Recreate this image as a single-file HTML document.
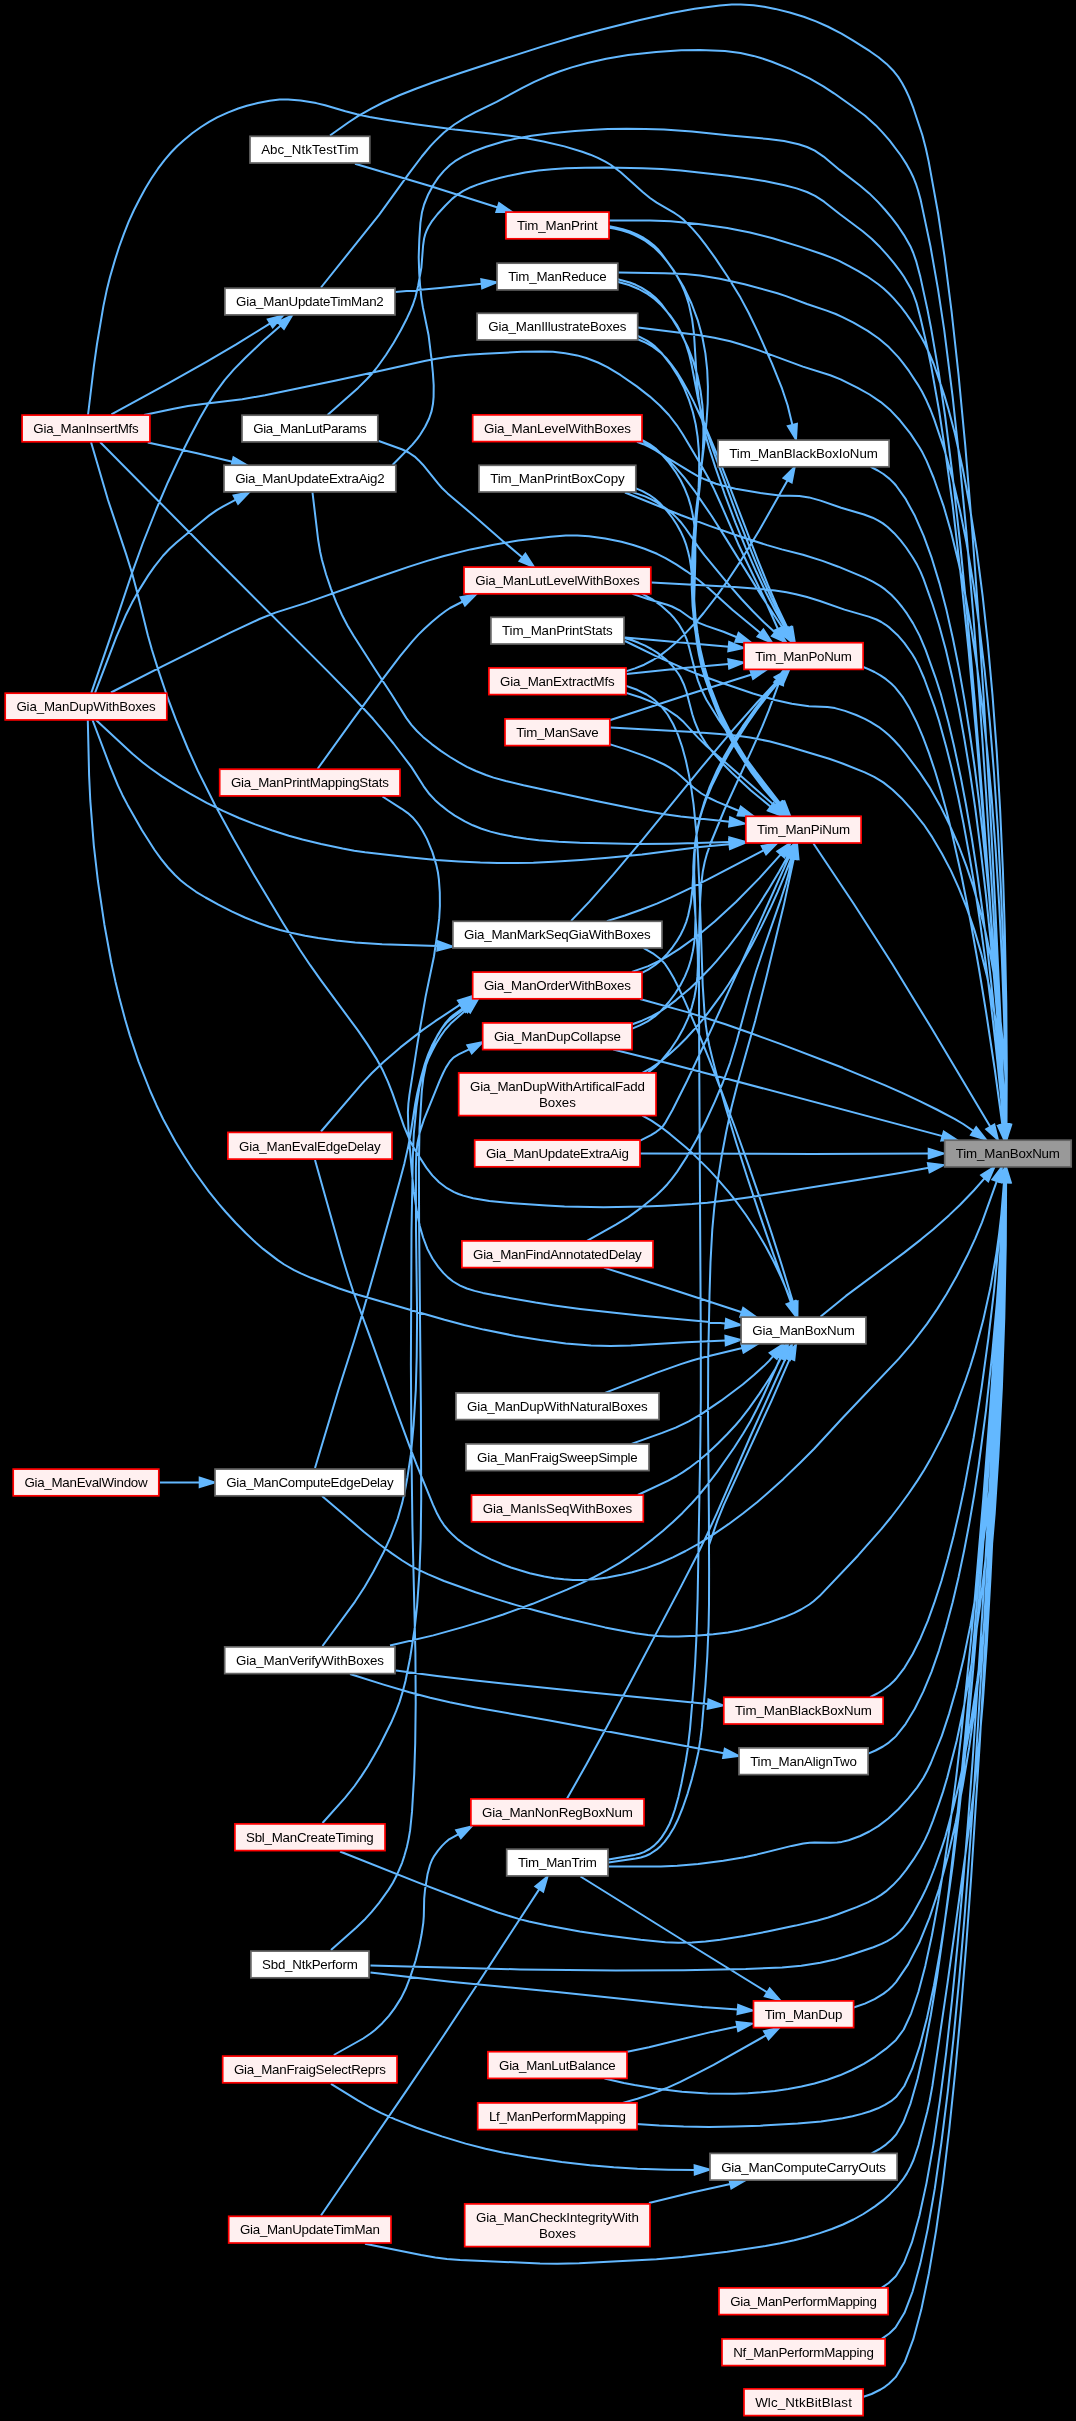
<!DOCTYPE html>
<html><head><meta charset="utf-8"><title>Tim_ManBoxNum caller graph</title>
<style>html,body{margin:0;padding:0;background:#000;}svg{display:block;}text{font-family:"Liberation Sans",sans-serif;}</style></head>
<body>
<svg width="1076" height="2421" viewBox="0 0 1076 2421">
<rect width="1076" height="2421" fill="#000"/>
<path d="M91,442 108,500 126.2,554.4 132,573 137.1,592 147.9,635.5 152,650 158.3,670.1 166.8,695.3 176.1,720.2 187.8,748.5 197.9,770.9 215,805 233.3,838.6 254.7,875.9 283.3,923.4 300,950 310.2,965.2 320.8,980.2 357.9,1030.4 367.5,1044.4 376.1,1058.1 382.9,1070.6 388,1081.9 392.5,1093.3 404,1126.4 410.2,1141.2 415,1150 426.3,1167.6 432.3,1175.4 439.1,1182.2 447,1188.2 454.1,1192.1 458.5,1194 463.2,1195.6 473.1,1198.2 489.4,1201 513.1,1203.2 546.5,1205.6 564.5,1206.5 603.6,1207.2 644.1,1206.5 663.9,1205.7 692,1204 707.3,1202.7 729.6,1200.1 751.4,1196.9 857.4,1180.1 900,1173 928.7,1167.7M330,135.5 348.3,122.5 358,116.2 371.3,108.6 383.2,102.5 400,95 415.9,88.7 434.1,82 460.4,73 506.2,58 543.6,46.1 574.9,36.8 600,30 638.9,20.3 671.2,13.1 694.7,8.8 719.8,5.5 731.8,4.6 740.7,4.5 753.5,5.3 764.2,6.8 775.2,8.9 789.7,12.5 803.7,16.8 816,21.4 827.6,26.5 841.5,33.7 852.4,40.1 869.9,51.2 878.5,57.2 886.6,63.9 893.8,71.3 898.2,76.9 902.2,83.2 905.8,90 909.1,97.1 913.4,108.2 922.4,135.3 925.8,148.2 928.7,161.6 938.2,214 944.6,256.9 951.6,311.6 958.5,374.4 965.2,444.9 971.6,522.5 977.7,605.7 983.6,696.3 989.6,798.4 995.2,905.6 1000.5,1018.2 1004.9,1125.2M321,287.5 379.1,214.8 408.7,173.8 421.8,156.5 430.6,145.9 435.1,141.1 444,132.5 454.4,124.5 464.9,117.9 475.5,112.2 496.6,101.8 521.9,88.2 534.3,81.9 546.8,76.3 559.3,71.5 571.7,67.4 587.4,63 606.2,58.7 628.1,55 656.2,51.9 681.2,50.2 700,50 724.9,51.1 740.5,53.1 753.5,55.9 760.8,58 771.9,61.7 790.3,69.1 809.5,78.3 823.4,86.3 834,93.3 851.6,105.7 865.1,115.8 875.9,125.4 882.7,132.6 889.7,140.7 900.9,155.5 906.9,164.9 910.4,171.2 913.4,177.5 915.9,183.8 918,190.2 920.7,200.1 930.4,246 938,289.2 944.2,329.8 952.6,396.4 959.5,460.3 966.3,531.1 973,611.3 979.6,699.3 986.2,795.5 992.7,900.7 998.8,1009.5 1004.7,1125M327.5,415 358.1,387.9 366.8,379.3 372.4,373.2 377.7,366.5 385.9,355 393.7,342.8 400.8,330.3 407,318.2 410.5,310.6 413,304.5 415.4,297.3 418.1,285.9 421.4,267.6 423.1,245.5 424.1,238.5 425.3,234.1 426.8,230.2 428.5,226.7 431.6,221.7 437.6,214 445.2,205.8 452.1,198.9 457.2,194.8 463.3,190.9 470.8,187.2 477.4,184.6 488.5,181 500.4,177.7 512.8,174.9 525,172.5 538.3,170.5 551.9,169.2 565.9,168.3 585.1,167.7 605.8,167.5 642.6,168.2 661.7,169.1 680.9,170.6 728,175.8 750,178.8 764.4,181.1 784.6,185.2 796.6,188.4 807,192 815.1,195.9 824.1,201.7 840,214.3 862.7,231.3 871.6,238.8 880.3,247.3 887.1,254.8 893.8,262.8 900.1,271.1 904,276.8 910.8,288.4 913.3,294 916.4,302.6 920.3,317.3 927.3,347.4 931.4,367.4 939.1,410.7 946.1,457.1 952.7,505.7 961.2,578.9 968.6,650.7 976.1,732.8 983.6,822.7 991.1,922.8 998.4,1028.9 1004.4,1125.1M392.5,465 412.4,444.6 417.2,438.9 420,435 425.1,426.8 429.1,418.5 431.6,411.1 433,403.8 433.6,396.9 433.7,385.3 432.9,373 431.7,360.6 428.6,335.3 422.9,307.4 421.4,298.1 420.1,285.6 419.2,272.9 418.7,257.2 419.3,239.4 420.4,222.9 422,212.2 424.1,204.5 428.2,194.4 433.6,184.5 438.4,177.4 443.9,170.9 450,165 455,161.2 463.5,156.1 472.7,151.8 486.1,146.8 504.2,141.3 517.5,138.3 531.6,135.8 550.9,133.3 575,131 593.7,129.7 607.8,129 626.6,128.7 645.3,128.9 664,129.6 692,131.6 730.1,135.5 768.2,139 784.1,141.1 798.6,144.2 807,147 814.8,150.7 823.6,156.6 839.6,169.9 860.2,185.8 869.3,193.4 877.9,201.9 884.8,209.5 891.6,217.6 898.1,226.2 904,235.1 910.8,247.1 913.3,253 916.4,261.9 920.4,277.1 927.3,308.9 930.8,326.7 938.8,373.1 945.1,416 952.5,474.9 960.2,544.2 967.4,617.2 974.8,701.4 982.1,794.2 989.6,896.6 997.4,1012.3 1004.4,1125.1M315,1160 341.9,1255.5 348.1,1275.9 353.4,1292 370.1,1337.2 394.3,1404.9 409.6,1446.3 416.6,1464.6 433.1,1504.8 437.2,1513.8 440.3,1519.5 443.8,1524.8 448,1530 453,1535.1 458.4,1539.9 464.3,1544.3 473.8,1550.4 480.4,1554.2 490.9,1559.3 502.2,1564.2 510.9,1567.5 529.7,1573.2 544.3,1576.5 554.1,1578.2 563.7,1579.3 573,1580 581.6,1580.1 594.5,1579.3 607.4,1577.6 620,1575.1 632.2,1572.2 646.9,1567.9 660.1,1563 672.9,1557.4 685.6,1551 699.3,1543.4 713.9,1534.2 728.5,1524.2 742.9,1513.5 757.4,1502 768.6,1492.3 783.4,1478.9 800.7,1462.2 814.2,1448.7 841.8,1418.8 898.9,1358.6 912.4,1342.9 927,1323.9 937.1,1309.1 946.6,1294 956.8,1276 967.2,1255.8 975.3,1238.3 982,1222.3 996.8,1181.1M322,1496 363.8,1531.7 379.7,1544.5 391.8,1553.4 402.2,1560.5 410.5,1565.6 417.6,1569.3 427.8,1574.2 444,1581 475.5,1592.3 495.8,1598.9 516.3,1605.1 538.3,1611.3 563,1617.7 605,1627.4 635.3,1633.2 648,1635 657.5,1636 668.4,1636.6 678.5,1636.6 695.4,1635.8 713.3,1634.3 728.1,1632.4 739.1,1630.5 753.7,1627 768.7,1622.6 783.7,1617.3 794.4,1612.8 801,1609.5 809.3,1604.5 813.6,1601.2 819.5,1596.1 857.9,1555.7 881.5,1528.9 891.2,1517 899.6,1506 908.7,1493.5 917.6,1480.4 924.3,1469.8 930.5,1459.1 942,1437.1 948.6,1423.2 954.7,1409.1 965.5,1380.5 970.3,1366.2 974.7,1351.9 983.1,1320.6 990.5,1287.3 996.4,1253.3 998.9,1235.5 1001.5,1213.2 1003.2,1197.1 1004.3,1182M340,1851.5 419,1882.9 473.9,1903.8 497.8,1912.5 517.8,1918.6 528.9,1921.5 547.5,1925.6 579.8,1931.4 605.2,1935.2 640.7,1939.8 665.4,1942.3 678.2,1942.8 692,1942.5 705.5,1941.5 720.3,1939.7 743.9,1936 767.4,1931.5 795.6,1925.6 817.5,1920.5 828.3,1917.5 836.5,1914.8 856.7,1907.1 867.8,1902.3 875.9,1898.1 881.1,1894.9 885.9,1891.4 893,1885.1 899.8,1877.9 906,1870.1 913.7,1859.2 920.5,1848.3 924.8,1840.1 928.6,1831.8 933.1,1820.3 938.4,1805.4 943,1791.9 947.2,1777.8 956.7,1740.8 964.4,1704.2 972,1661.4 979.8,1607.4 985.3,1560.9 990.8,1504.8 995.6,1444.6 999.7,1378 1002.7,1312.6 1004.9,1243.2 1005.8,1182M370.5,1965.5 520.1,1969.4 615.8,1970.5 683.8,1970.2 745.7,1969 782.1,1967.4 801.3,1965.7 820.3,1962.8 834.8,1959.6 851,1954.7 873.4,1947.2 881.6,1943.9 886.8,1941.4 891.6,1938.5 896,1935.3 899.8,1931.8 903.3,1928 908,1921.7 912.3,1914.9 921.7,1897.7 925.9,1889.1 929.9,1880 934.8,1867.5 940.6,1851.2 945.4,1836.6 953.7,1805.9 958.5,1785.9 962.3,1768.7 970.5,1724.3 977.3,1680.2 983.8,1629.8 989.4,1575.8 994.7,1513.3 998.4,1455.8 1001.9,1387.5 1004.3,1318 1005.8,1244.4 1006.1,1182.4M365,2243.8 421.1,2255.1 435.3,2257.5 446.9,2259.1 460.1,2260.1 482.7,2260.9 540,2263.6 557.3,2263.7 579.2,2263.2 656.5,2259.2 682.6,2257 727.2,2251.7 765.5,2246 780.4,2243.3 794.3,2240.3 807,2237 819.8,2233.1 831.8,2229 843,2224.5 853.5,2219.5 863.4,2214 875,2206.4 882.9,2200.4 890.2,2193.9 897,2186.9 903.1,2179.2 906.9,2173.4 910.4,2166.9 913.5,2160 918.5,2145.1 927.2,2112 929.5,2101.8 932.4,2085.9 947.6,1982.6 969.2,1827 974,1789 979.8,1736.8 983,1700 986.8,1644.2 990.5,1577.4 994.8,1489.5 999.4,1377.9 1005.5,1182.5M609,220.5 650,220.5 670.8,221.2 698.5,223.9 727.2,228.1 750,232.5 772.7,238.2 800.7,246.9 822.5,254.2 832.7,258.1 839.1,260.9 849.6,266.3 858.3,271.1 867,276.3 878.3,284.2 883.6,288.5 888.7,293.2 893.7,298.4 901,306.8 905.5,312.8 912,322.1 921.7,338 925.1,344.3 929.6,354.1 933.7,364 937.3,374.3 944.5,395.9 948.1,408.1 954.8,433.3 962.8,469 969.4,504.6 976.9,551.5 982.6,595.7 987.7,642.2 992.5,695.1 996.7,751.1 1000.1,809.1 1002.9,870.6 1004.8,930.3 1006.3,1003.6 1006.8,1067.5 1006.5,1125.1M618.5,272.5 664.6,273.2 685,274 700,275.5 719.8,278.8 744.6,284.3 777.4,293.2 786,296.1 807,304 826.7,310.6 835.7,314 842.5,317.1 853.5,322.7 867.7,330.9 878.7,338.5 888.8,347.1 898.3,357.1 902.7,362.6 909.1,371.2 918.7,385.9 922.1,391.8 926.6,400.8 930.6,410 934.2,419.4 944.6,450.2 952.2,477.4 960,510.5 966.3,541.9 973.4,584.2 979.2,625.6 984.6,670 989.7,720.9 994,773 998,831.7 1000.6,882.3 1003.3,945.5 1005,1005.5 1006,1066.7 1006.2,1124.7M638,327.5 698.1,334.9 714.3,337.7 730.3,341.3 741.2,344.5 757.7,349.9 802.9,366.6 830.3,375.3 840.6,379.4 857.7,387.8 869.6,394.5 880.8,402.1 890.8,410.6 899.9,420.3 910.3,433.4 919.4,447.2 922.5,452.6 926.6,460.9 933.7,478 943.8,506.7 951,531.8 958.5,562.4 964.6,591.3 971.5,630 977,666.3 982.5,708 987.2,750.7 991.7,798.3 995.7,850.3 999.2,905.3 1001.8,957.1 1004,1016.1 1005.4,1072.9 1005.9,1124.9M642.5,441 666.6,457.3 690.5,471.9 697.4,475.8 704.7,479.3 715.9,483.7 723.4,485.8 735.5,488.7 760.4,493 779.5,495.5 799.3,496.1 809,497.4 820.6,500.6 841.1,507.7 864,514.5 872.6,517.7 877.9,520.3 882.9,523.4 887.6,527 894.2,533.2 900.4,540.1 906.1,547.5 912.8,557.5 917,564.6 920.5,571.6 923.5,578.8 932.6,604.5 939.1,625.2 945.9,650.1 952.3,677.4 959,709.2 964.4,739.1 970.1,773.4 975.3,808.7 980.4,847.9 985.9,894.7 990.2,936.5 994.2,979.6 998.3,1029.2 1001.9,1080.1 1004.5,1124.8M625,492.5 681.2,515.3 709.5,525.9 739.4,536.2 767.1,545.1 781.8,549.4 803,554.8 822.5,560.9 838.3,566.7 864.7,577.6 872.8,581.6 880.5,586.1 885.1,589.4 891.3,594.8 896.9,600.6 902.1,607 907,613.7 913.1,623.4 919.7,635.9 925.6,649.8 935.6,677.8 941.1,694.9 948.6,723.1 953.8,744.9 960.7,776.9 965.8,803.7 971.7,837.6 977.6,875.6 982.8,913.2 987.9,953.4 992.9,998.2 997.5,1044.8 1000.7,1081.4 1004,1124.9M651.5,582.5 734.6,587 763.4,589.2 775,590.5 786.5,592.3 795.9,594.2 807,597 819.9,601 844.5,609.6 868.7,616.6 876.5,619.5 881.3,622 885.7,624.8 889.8,627.9 897.4,634.9 904.3,642.9 912.2,654 915.5,659.6 918.6,665.6 924.2,678.5 934.7,707.4 939,720.7 946.3,747.2 951.5,767.7 958.3,797.8 963.4,823.1 969.3,855.1 974.8,887.7 980.2,923.2 985.5,961.2 990.9,1003.5 995.4,1042.7 1000.6,1092.6 1003.6,1125.1M625,641 655.5,655.9 686.4,669.6 700,675 717.8,681.5 753,693.5 775,700 791.8,703.7 808.9,706.2 827.4,707 835,708.1 845,710.9 856.2,715 864.8,718.9 870.4,721.9 878.5,726.8 883.7,730.7 889,735.3 894.1,740.3 899.1,745.7 906.2,754.3 919.5,772.1 929.5,787.1 940.2,805.9 949.8,825.3 958.6,845.5 966.4,866.1 973.3,886.8 979.4,907.9 985.6,932.5 990.7,956.5 996.1,987.2 999.7,1012.8 1003,1043.5 1005.1,1070.9 1006,1092.6 1006.3,1124.8M610.5,727.5 693.3,732.1 719.5,733.9 735.6,735.5 750,737.5 770.1,741.5 787.6,746.2 829.2,758.7 843.2,763.7 864.8,772.4 874.2,776.9 883.3,782.4 892.6,789.7 901.5,798.2 912,809.8 923.6,824.3 932.4,837.4 942,853.8 950.9,870.6 958.8,888.1 967.1,908.9 974.4,930.1 981.5,954.4 986.8,975.4 992.5,1002.2 996.4,1024.4 1000,1049.9 1003.1,1079.5 1004.8,1101.4 1005.6,1125.1M640,999 688.1,1012.4 725.4,1024.3 752.4,1033.7 780.3,1043.9 842.7,1067.8 884.6,1085.1 901.6,1092.6 919.7,1101.1 936.7,1109.5 954.5,1118.9 963.2,1124 973.6,1131.1M613.3,1049.5 655.4,1060 711.8,1074.7 942.5,1136.1M639.5,1153.4 811.7,1154 928.7,1153.5M608.5,1866.5 660.8,1866.5 677.2,1865.7 698.1,1863.9 723.3,1860.7 744.2,1857.2 757.2,1854.4 791.6,1845.9 803.3,1843.5 809.6,1842.7 814.6,1842.4 830.6,1842.7 837.2,1842.5 841.7,1841.9 848.6,1840.2 860.2,1836 869.4,1831.5 878.3,1826.1 888.3,1818.5 898.6,1809 908.3,1798.4 917,1787.6 923.5,1777.8 927.4,1770.5 930.9,1763 941.8,1735.9 949,1714.1 956.6,1687.8 963.5,1659.1 970.4,1625.4 975.9,1594 981.4,1557.7 986.6,1516.4 991.1,1474.8 995.2,1429.2 998.7,1380.6 1001.5,1330.6 1003.6,1281.1 1005.2,1228.9 1005.8,1182M604.5,2078.5 623.9,2082.9 634.6,2085 657.4,2088.8 682,2091.7 707.8,2093.4 734.4,2093.7 747.9,2093.2 761.3,2092.3 774.8,2090.9 788.2,2089 801.5,2086.5 814.5,2083.5 827.4,2079.7 839.9,2075.3 852,2070 863.8,2063.8 875.1,2056.8 885.8,2048.9 896,2039.9 903.7,2029.5 911.2,2013.3 918.4,1992 925.3,1965.9 931.9,1935.5 938.3,1901.2 944.4,1863.5 950.3,1822.9 955.9,1779.8 961.2,1734.7 970.9,1640.8 975.3,1592.9 983.3,1498 990.2,1407.5 995.8,1325.4 1004.5,1182.4M636.4,2124.1 659.3,2125.6 683.6,2126.6 708.9,2126.9 734.7,2126.5 760.4,2125.7 797.7,2123.5 821.1,2121.4 842.6,2118.2 852.5,2116.2 861.7,2113.9 870.3,2111.2 878,2108.3 884.9,2104.9 891,2101.2 896,2097.1 904.3,2086 912.2,2068.7 919.8,2045.9 927,2017.9 934,1985.3 940.6,1948.5 946.8,1908.1 952.8,1864.5 958.4,1818.4 963.6,1770.1 968.6,1720.3 973.2,1669.5 977.6,1618.3 985.3,1516.8 991.7,1420.2 997,1332.8 1001,1258.6 1004.7,1181.9M870.7,466.9 877.8,470.5 883.4,474 889.6,478.9 894.3,483.5 896,485.5 905.8,499.2 915,516.1 923.7,535.8 931.8,558.2 939.4,583.1 946.5,610.1 953,639 959.1,669.4 964.7,701.2 969.9,734 974.7,767.5 979,801.4 982.9,835.3 989.7,902 995,965.2 1000.8,1048.3 1004.8,1124.7M862.2,666.5 868.4,669.1 874.5,672 880.4,675.4 886,679.2 891.2,683.5 894.9,687.1 903,697.4 909.8,708.6 916.4,721.7 922.8,736.6 929,753.1 935,771 940.8,790.3 946.4,810.7 951.7,832.1 961.7,876.7 970.8,922.7 978.9,968.2 986,1011.6 994.8,1069.5 1002.4,1125.1M813.3,843.2 853.7,903.7 892.3,964 931.6,1028.3 990.3,1126.8M820.4,1316.8 845.9,1295.9 904.2,1252.6 920.8,1239.6 933.1,1229.4 948.9,1215.4 960.1,1204.7 973.8,1190.5 984.7,1178.2M870.1,1697.2 877.3,1693.5 883,1690 889.4,1685.2 894.2,1680.7 896,1678.8 904.6,1667.6 912.7,1654 920.5,1638.2 927.9,1620.6 934.8,1601.4 941.5,1580.7 947.7,1558.8 953.6,1535.9 959.1,1512.2 964.3,1487.9 973.6,1438 981.6,1387.7 988.4,1338.2 994,1291.1 1000.2,1228.3 1004,1181.8M867.7,1753.8 875.5,1750.5 883,1746.5 888.8,1742.6 894,1738.1 896,1736.1 905.7,1723.8 914.8,1708.8 923.4,1691.4 931.5,1671.8 939,1650.3 946,1627.1 952.6,1602.6 958.6,1576.9 964.2,1550.2 969.4,1522.9 974.2,1495 978.5,1466.9 986,1410.3 992.1,1354.9 996.9,1302.3 1002,1232.7 1004.7,1182.2M852.9,2007.7 864.9,2003.6 874.6,1999.1 883.6,1993.6 888.6,1989.7 891.7,1986.8 896,1982.1 908.1,1964.4 919.3,1942.8 929.6,1917.4 939.1,1888.7 947.7,1857 955.6,1822.7 962.7,1786 969.2,1747.4 974.9,1707.2 980,1665.9 984.6,1623.8 988.5,1581.3 992,1538.8 997.5,1455.4 1001.3,1376.8 1002.7,1340.2 1004.6,1274.2 1005.6,1220.1 1005.9,1181.9M871.6,2153.3 879.6,2149 885.9,2144.6 891.7,2139.5 896,2134.7 903.4,2122.1 910.6,2103.3 917.6,2078.8 924.3,2049.1 930.9,2014.7 937.2,1976.1 943.2,1933.8 949.1,1888.3 954.6,1840.2 960,1789.9 965,1738.1 974.4,1632.1 982.6,1526.8 989.7,1426.8 998,1296.4 1004.5,1181.9M881.6,2287.9 888.7,2283 895,2277.1 896,2275.9 904.1,2262.5 911.9,2242.4 919.4,2215.8 926.5,2183.1 933.4,2144.6 939.9,2100.9 946.2,2052.4 952.1,1999.5 957.7,1943.1 963,1883.7 968,1822.2 972.7,1759.3 981.1,1632.8 988.3,1511.1 994.3,1400.3 999.1,1305.7 1004.8,1182M881.7,2338.9 889.3,2333.5 895.5,2327.5 904.5,2312.8 912.6,2291.6 920.3,2263.6 927.7,2229.1 934.8,2188.7 941.4,2142.7 947.8,2091.7 953.7,2036.3 959.4,1977.1 964.7,1914.9 969.6,1850.4 974.3,1784.6 982.5,1652.3 989.5,1524.9 995.2,1409.2 999.7,1310.5 1004.9,1181.9M862.1,2397.3 871.6,2394 880.6,2389.5 884.9,2386.8 888.9,2383.8 894.9,2377.9 896,2376.7 904.9,2361.7 913.3,2339.2 921.3,2309.6 928.9,2273.2 936.1,2230.6 942.9,2182.3 949.3,2128.8 955.3,2070.8 961,2009 966.3,1944.1 971.2,1876.9 980,1739.4 987.4,1603.6 993.4,1476.6 1000.2,1315.8 1005.1,1182.2M111.4,414.3 168.2,383.4 206.4,361.9 235.8,344.7 270.2,323.4M91.3,692.8 114.3,625.9 132.6,571.3 142.7,543.5 156,510 167.9,482.2 177.9,460.9 190,436.8 199.8,418.3 207.5,405.1 215.2,392.9 224.8,379.8 233.7,369.6 244.9,358.2 262.2,341.7 280.8,325.4M147.8,442.6 197.1,453.3 232.4,461.7M95,692.8 116.5,636.7 125.5,615.8 132.1,602.6 140,588.6 148.1,575.6 154.4,566.7 162.8,556 169.6,548.8 176.5,542.5 201.5,521.7 209.3,515.4 216.8,510.1 223.2,506.3 235.9,499.6M160,1482.4 199.7,1482.4M355,163.7 430,186 497.7,207.5M395.5,292 440,288 481.8,283.8M378.8,441 402.4,449.5 408.6,452.5 414.7,456.6 418.8,460.4 422.9,464.7 438.2,483.6 442,488 447.6,493.4 473,515 503.3,541.5 522.4,557.4M317.5,769 351.9,721.1 383.6,677.9 400.3,655.9 412.1,641.6 418.4,634.6 424.4,628.7 431.8,621.9 439.6,615.5 445.6,611 450.1,608 462.8,601.5M92.5,720 109.7,765.5 117.9,785.4 122.5,795.2 127.6,804.9 142,830.3 154.6,850 161.2,859.1 168,867.5 175,875 180.8,880.4 186.8,885.3 196,891.8 205.5,897.5 218.4,904.6 231.6,911.3 244.9,917.5 258.5,923 269.1,926.7 280,930 292.4,933.1 305.1,935.8 318.2,938 336.2,940.4 355.2,942.5 382.1,944.2 437.5,945.9M321,1131.5 361.6,1084.1 371.7,1073.3 383.5,1062 400.4,1047.4 422.5,1030.1 435.2,1021.2 460.6,1004.4M315,1468 338.5,1389.7 354,1341.3 361,1318.4 376.4,1264.6 399.6,1181.6 404.4,1163.4 408.3,1146.1 410.5,1134.3 415.2,1104 417.2,1093.4 421.3,1076.6 424.8,1064.1 428.1,1054.6 431.9,1045.8 437.3,1035.6 442,1028 445.6,1022.9 449.8,1018.1 453.4,1015 462.7,1008.2M322.5,1823 345,1797.9 354.5,1786 361.4,1776.1 368,1766 374.1,1755.6 380,1745 391.1,1722.8 396.1,1711.2 399.5,1702.1 402.6,1691.9 405.5,1681 410.1,1658 414.6,1629 417.1,1606 419.5,1571.6 420.7,1539 421.2,1499.2 420.9,1407.9 419.1,1223.9 418.9,1163.6 419.5,1129.2 421.8,1091.1 423.4,1077.7 426,1065 428.4,1057.1 431.1,1049.3 436.6,1037.3 441.6,1028.9 446.6,1022.8 451.9,1018.1 464.5,1008.6M331,1950 356.1,1927.8 365.5,1918.7 371.7,1911.8 378.9,1903.1 388.6,1889.6 392.9,1882.7 396.5,1875.8 402.1,1862.8 404.3,1856.1 406.9,1846.9 408.6,1839.1 410.1,1830.4 412,1811.9 414.2,1774.4 415.2,1743.5 415.7,1703 415.4,1652.7 412.4,1525.3 411.4,1445.6 410.9,1365.2 411.5,1230.8 412.8,1158.2 413.8,1133.7 416.5,1106.5 419.4,1087.6 421.4,1078.7 423.1,1072.9 428.2,1059.1 432,1051.2 436.1,1043.5 440.5,1036.4 445,1030 451.6,1022.7 467,1009.2M322.5,1646 354.9,1601.8 364.7,1586.7 373.5,1571.5 383.7,1552 390.9,1536.4 397.7,1518.5 402.2,1502.9 405,1490.4 407.4,1477.4 410.9,1454.2 413.6,1425.1 415.8,1389.7 416.7,1356.8 417.1,1315.9 416,1230 415.9,1167.7 416.3,1153.5 417.4,1143.3 419.9,1131.9 424,1119.4 439.7,1080.7 443.4,1072.5 445.9,1067.6 450,1061.3 452.5,1058.6 454.6,1056.8 459.1,1054.1 469.6,1049.2M333.8,2055 363.2,2038.5 370.5,2033.5 375,2030 382.3,2023.2 388.9,2015.9 394.7,2008.1 401.2,1997.9 405.7,1988.8 410.3,1976.9 415.7,1960.2 419.3,1946.1 421.6,1934.3 423.3,1922.8 423.8,1916.1 424.2,1898.5 425,1890 427.5,1874.3 430,1865 432,1860 434.3,1855.8 438,1850.6 442,1845.9 446,1841.9 449.1,1839.3 458.6,1834.1M321,2215.5 406.8,2090.1 444,2035 474.8,1988.3 539.3,1889.1M88,415 93.9,366 97,344 103.4,306.1 106.9,289.4 110,277 115,259.9 119.1,247 123.7,234.3 128.6,221.9 134,210 139.5,199.2 145.3,188.6 151.5,178.3 158,168.7 164.7,159.8 171,152.5 177.1,146.2 183.5,140.4 192.2,133.3 201,127 209.1,121.9 217.2,117.4 227.7,112.6 238.2,108.5 246.9,105.7 257.8,103 269.5,100.8 279.6,99.6 288.1,99.4 300.7,100.4 316.2,103.1 325.1,105.2 345.4,111.3 356.9,114.3 369.6,116.9 385.8,119.7 415.3,124.2 454.9,129.6 511.8,136 525,138 543.4,141.5 564.4,146.4 582.2,151.8 590.4,154.7 597.9,157.9 605.3,161.6 611,165 620.7,172.2 642.7,192 650,198 656.7,202.6 674.8,213.2 679.3,216.3 683.8,219.9 692.4,228.6 698.9,236.2 705.5,244.6 715.3,258.1 727.7,276.7 740.5,297.6 748.6,312.7 757.7,331.6 771.8,363.1 782.1,388.7 787.6,405.2 792.4,424.9M625.7,671.4 635,668.4 644.2,664.7 653,660 660,655.6 668.8,648.7 676.1,642.4 683.2,635.6 697,620.9 703.6,613 716.3,596.7 728.2,579.8 739.4,562.9 759.3,530.3 787.6,480.2M144,415 173.7,408.7 188,406 202.8,403.9 242.2,399.2 265,395.3 336,380.5 384.1,370.1 424.5,361 436.3,358.8 450.9,356.6 467.7,354.8 484.3,353.7 521.6,351.8 541.7,351.4 553,351.8 565.2,353.2 577.2,355.4 586.3,358 598,362.5 607.4,367.2 620.7,375.2 636.8,386.4 649.9,396.6 660.1,405.7 668.9,415 676.9,425.3 682.9,434.5 701.9,466.6 708.2,477.7 713.7,488.4 720.6,503.5 738.3,544.2 763.7,597.2 777.9,629M111,692.5 162.2,666.4 230.3,632.6 259.5,619 275.4,612.6 306.2,602.9 378.2,577.3 408.4,566.9 427.2,560.9 444,556 470.6,549.4 495,544.4 518.3,540.6 550.6,536.7 565.9,535.6 577.3,535.6 589,536.3 605.2,538.5 621.4,541.8 633.2,545 644.5,548.7 657,553.8 665.5,558.1 676.2,564.4 686.7,571.3 697.6,579.2 708.9,588.5 732.6,610 760.5,633.1M608.1,227.4 615.2,228.8 622.3,230.6 629.4,232.9 634.1,234.9 640.9,238.3 645.4,240.9 653.7,247.1 661.3,254.5 667.4,261.8 672.6,269.1 677.1,276.3 681,283.4 684.2,290.5 686.8,297.6 689,304.8 692.1,319.1 694,333.8 696.9,381.4 698.7,399 701.6,417.8 703.7,427.7 706.2,437.9 709.3,448.5 715.3,467.1 725,495 735.3,522.3 745.8,548.1 756.2,571.8 766.2,593 775.6,611.2 785.8,629.6M617.4,281.7 629.1,285 638.6,289 647.9,294.2 654.8,299.3 661.3,305.3 670,315.1 676.8,324.8 682,334.5 686,344.2 689.1,354.1 691.5,364.3 697.9,398.1 700.8,410.9 706.7,432 712.7,449.2 737.5,516.7 755.2,561.1 761.9,577 771.4,598.1 780.1,615.8 787,629M637.1,339 645.6,342.7 652.7,346.7 660.4,352.4 666.1,358 671.1,364.1 676.4,371.4 681.8,380.1 687.4,389.9 693.2,400.9 705,426 717,454.4 729,484.8 757.6,559.4 767.9,584.9 777.2,606.4 788.1,629.1M637,441.7 643.4,444.2 649.6,447.1 655.6,450.4 661.3,454.2 665.4,457.4 669.8,461.4 674.4,466.1 684.4,477.7 695.1,491.7 712,516.5 723.5,534.6 762.3,597.1 784,630M632.5,492.1 644.9,496.4 650.9,499.2 656.8,502.4 667.2,509.4 672.3,513.5 676.6,517.6 680.4,521.7 685.3,528 698.2,546.8 704.4,555.2 726.7,582.2 741.4,599 752.9,611.3 763.9,622.2 775.1,632.5M632.5,593.9 648.5,599.2 667.2,604.7 672,606.5 679.6,610.3 691.5,618.7 698.9,622.9 706.4,625.9 723.5,631.8 736.9,637.3M625,637.6 728.8,646.7M626.5,674 686.5,667.8 728.8,663.9M609,720.5 685.2,695.5 751.7,674.5M571.1,920.9 589.4,901.6 613.2,874.7 641,841.7 701.5,767.4 730.8,732.4 757.1,702.5 777.8,680.4M641.5,973.1 648.6,969.4 655.2,965 661.3,959.9 667.4,953.6 672.5,947.3 676.9,941 680.6,934.7 683.7,928.4 686.2,922.1 688.1,915.8 690.8,903 692.3,890 694.8,848.3 696.8,833.2 700.2,817.2 702.7,808.9 705.7,800.3 711.8,785.9 719.9,769.5 728.7,753.4 738,737.9 747.5,723.2 756.9,709.7 769.1,693.6 779.6,680.8M631.7,1028.8 639.8,1025.4 647.6,1021.3 654.8,1016.4 660.3,1011.6 668.9,1002 675.2,993.5 680.5,985 684.8,976.6 688.3,968.2 690.9,959.8 692.8,951.4 694.2,943 695,934.5 695.5,917.4 694.2,872.3 694.7,853.1 695.5,843.1 696.9,832.9 698.9,822.4 701.5,811.6 705,800.5 709.3,789 716.6,772.9 724.9,757.1 733.8,741.8 743.1,727.2 755.7,709.3 767.9,693.5 778.6,680.8M647.7,1072.7 654.9,1067.3 660.8,1061.4 670.1,1050 677.3,1039.3 683.3,1028.6 688.1,1018.1 691.7,1007.6 694.4,997.2 696.3,986.8 697.4,976.4 697.9,966 697.8,955.5 696.7,934.3 693.5,890 693.2,878.4 693.3,866.5 694,854.4 695.3,841.8 697.3,829 700.3,815.7 704.3,802.1 709.3,788 716.4,771.8 724.5,756 733.4,740.7 742.8,726.2 755.5,708.3 767.9,692.6 778.2,680.6M608.5,1859.5 634.5,1854.9 639.4,1853.7 643.9,1852.1 649.6,1849 654.1,1845.6 658,1841.8 661.6,1837.4 665.9,1830.8 669.5,1824 672.3,1817.1 674.9,1809.5 678.4,1796.9 681.4,1783.7 685.6,1762 687.6,1749.7 690,1729.1 693.5,1687.9 695.1,1664.2 696.5,1635.4 697.6,1598.9 700.3,1446.6 700.8,1400 700.8,1340.1 699.2,1055.8 698.9,952 699.3,924.5 700.3,898.3 701.2,884.7 702.8,871.5 704.7,862 707.1,853.3 711.1,842 724.5,809.5 752.3,748.8 762.2,726.7 768.8,710.4 778.7,683.6M100,442 215,558.2 327.6,671.1 350,694 373,718.8 383.8,731.6 393.5,743.5 411.5,767.1 423.7,786.3 429.6,794.3 434.9,799.9 441.1,805.4 447.8,810.7 454.8,815.6 464.8,821.4 472.8,825.3 481.5,828.7 490.5,831.6 499.9,834 513.6,836.7 526.6,838.8 538.7,840.2 558.7,841.8 579.9,842.8 637,844.1 671,843.8 729.5,842M96,720 132.4,753.7 142.8,762.5 150,768 161.5,776.1 177.6,786.4 190,793.7 206.7,802.8 223,810.9 239,818 255.2,824.4 271.7,830.3 288.8,835.7 302.5,839.5 321.1,844 342.6,848.6 354.2,850.8 365,852.3 408.6,857.3 436.4,860 458.7,861.5 480.3,862.6 497.7,863.1 516.2,863.1 533.4,862.7 553.2,861.7 580.9,859.9 608.1,857.7 642,854.4 700,847 729.6,844.3M312.5,492.5 318.1,539.5 320.2,552 322,560 326.1,574.5 330.9,588.6 336.2,602.2 342,615 347.6,625.7 353.6,635.7 374.9,669 391.5,694.3 406.4,718.1 411.4,724.8 416.9,731 423,736.9 431.7,744.1 440.8,750.9 450,757 458.5,762.2 466.9,766.8 475.9,771 486,775 493.5,777.6 505.8,781 523.5,785.3 596.2,801.1 644.3,810.8 663,814 680.7,816.5 729.6,821.8M608.3,226.1 615.6,227.4 622.8,229.1 630,231.4 637,234.4 643.8,238 648.1,240.8 654.1,245.6 657.9,249.2 661.3,253.3 673.5,270 683.5,286.7 691.5,303.5 697.7,320.1 702.3,336.8 705.4,353.4 707.2,370 707.9,386.8 707.7,403.6 706.6,420.6 705,437.9 696.2,509.3 694.2,528 692.7,546.9 691.8,566.3 691.7,586 692.6,606.2 694.6,626.7 698,647.8 702.8,669.3 709.3,691.2 716.1,709 721.2,720.7 726.8,732 732.7,742.9 738.9,753.3 751.6,772.6 764.3,789.3 777.9,805.1M617.8,279.2 629.8,282.5 635.7,284.8 641.4,287.6 650.4,293.4 655.3,297.5 658.4,300.6 661.3,303.9 671.9,318.3 680.7,332.7 687.8,347.2 693.4,361.7 697.6,376.1 700.5,390.6 702.4,405.1 703.3,419.7 703.4,434.5 702.9,449.4 700.4,479.8 695.6,527.4 694.2,543.8 693.2,560.6 692.8,577.7 693,595.1 694,612.9 696.1,631.2 699.2,649.8 703.5,668.9 709.3,688.3 716.2,706.8 721.4,718.8 727.1,730.5 733,741.7 739.2,752.5 751.9,772.2 764.5,789.2 778,805M637.2,335.7 647,340.6 651.1,343.3 655,346.4 661.3,352.7 670.4,364.3 678,376.1 684.2,388.1 689.1,400.1 692.9,412.2 695.7,424.4 697.6,436.7 698.7,449.1 699.2,461.7 699.1,474.5 698.6,487.4 694.2,556.1 693.8,570.8 693.8,585.7 694.3,601 695.5,616.7 697.5,632.7 700.3,649.1 704.3,666 709.3,683.2 711.6,689.8 719,709.2 724.5,721.7 730.4,733.8 739.6,750.9 746,761.6 752.4,771.5 764.9,788.9 778.2,804.9M641.5,439.7 649.5,444.1 656.1,448.9 661.3,453.9 668.9,462.6 675.2,471.3 680.5,480 684.8,488.8 688.3,497.6 690.9,506.4 692.8,515.3 694.2,524.2 695,533.2 695.4,542.3 695.3,560.9 694.2,600.1 694.7,621.1 695.5,631.9 696.9,643 698.9,654.5 701.5,666.2 705,678.3 709.3,690.7 714.1,702.3 722,719.5 730.7,736.1 740,751.9 749.4,766.6 758.8,780 767.9,791.9 778.6,804.6M635.4,488.1 642.4,491.1 649.2,494.8 654.5,498.5 659.4,502.8 667.4,511.3 672.5,518 676.9,524.7 680.6,531.4 683.7,538.2 686.2,544.9 688.1,551.7 689.7,558.6 690.8,565.5 692.3,579.5 694.2,617 695.6,633.1 698.3,650.2 700.2,659 702.7,668.2 705.7,677.6 711.8,693.3 719.9,711.3 728.7,728.7 738,745.4 747.5,761 756.9,775.3 769.1,791.8 779.6,804.7M641.8,593.7 652,599.1 661.3,605.7 669.9,613.4 673.4,617.2 679.2,624.7 683.6,632.2 686.8,639.7 689.2,647.4 695.3,671.8 698,680.6 701.6,689.9 706.4,699.7 718,718.6 736.9,746 756.1,772.2 780.9,804.3M623.7,637.7 632,640.3 638.6,642.8 645.1,645.7 651.3,649 657.2,652.6 661.3,655.7 665.7,659.3 672.8,666.4 678.2,673.5 680.4,677 683.8,684.2 686.4,691.5 692.3,714.2 694.9,722.2 698.4,730.5 700.5,734.8 706,743.5 709.3,748 716.4,756.4 723.9,764.7 731.8,772.7 750.9,790.4 770.7,806.8M625.4,692.6 640.8,697.5 654.2,702.9 667.2,709.5 676.6,715.8 683.7,722.1 698.2,737.9 706.8,746.3 747.2,781.4 775.1,806.1M609.4,744.1 626.8,749.6 642.3,755.1 653.1,759.4 664.2,764.5 669.3,767.3 675.6,771.6 680.8,775.9 693.4,787.5 701.4,793.5 709.3,798 716.8,801.6 739.2,811M606.9,921.1 624.9,915.5 641,909.8 656.9,903.6 670.5,897.7 688.9,888.9 707.4,879.7 763.9,850.2M631.9,971.9 648.3,966.1 661.3,959.9 667.5,956.3 679.7,948.6 697.6,935.7 714.7,921.6 735.9,902 759.4,878.1 780.8,854.3M631.7,1024.5 642,1020.7 652,1016.2 660.2,1011.5 668.8,1005.6 676.1,1000.1 690.2,988.2 697,981.8 710,968.3 716.3,961.4 728.2,947.1 739.4,932.6 749.8,918.1 759.3,904 767.9,890.4 779.2,871.6 787.6,856.4M642.4,1072.8 651.4,1067.8 659.1,1062.6 669.9,1053.8 678.2,1046.2 686.2,1038.2 693.9,1029.8 701.4,1021.2 708.6,1012.2 722.2,993.7 728.6,984.2 740.6,964.9 751.5,945.7 761.3,926.9 770,908.8 777.7,891.8 784.3,876.2 791.6,857.3M639.7,1140.8 651,1135.2 656.3,1131.8 661.3,1128 663.1,1125.9 665.7,1122.1 672.6,1109.7 687,1081 711.3,1029.4 738.2,970.3 789.1,856.9M587,1240.9 615.9,1224.6 628.3,1217.1 642.1,1207.1 656.2,1195.5 662.9,1189 667.4,1184.2 671.8,1178.9 677.2,1171.6 686.9,1156.6 696.6,1139.5 705.9,1121 714.7,1101.9 722.7,1083 730.1,1062.8 736.5,1041.7 750,991.9 756,971.5 764.4,946.5 781.2,898.3 785.8,884 788.7,873.6 791.8,858.3M608.5,1862.5 635.7,1858.6 640.8,1857.5 645.6,1856 650,1854 656.5,1849.7 660.8,1845.9 664.7,1841.6 669.6,1834.8 673.9,1827.7 677.6,1820.3 682.8,1807.5 687.7,1793.3 692,1778.6 695.6,1764.5 698.4,1751.9 700.3,1739.9 701.8,1727.9 705.5,1684 707.3,1656.2 708.6,1625.8 709,1604.4 709.1,1570.4 708.9,1514.8 708,1414.9 708.2,1359.5 709.5,1295.5 710.5,1262.2 712.3,1229.3 714.3,1207.4 717.5,1181.8 721.5,1157 726.1,1132.5 731.4,1107.7 737.7,1082.9 755.3,1020.4 766.4,977.1 783.7,905.6 793.9,858.3M87.8,720 89.1,775.5 90.3,800.7 93.8,845.3 97.9,881 104.4,924.7 111.4,963 115.4,981.4 119.4,998 125.2,1019.7 129.9,1035.6 138.6,1061.6 150.2,1091 156.5,1105.2 163.2,1119.2 175.6,1142 184,1155.8 192.9,1169.5 208.9,1191.6 219,1204.1 225.8,1212 235.6,1222.7 245.7,1233 256,1242.8 263.1,1248.9 277.4,1259.9 284.2,1264.5 294.1,1270.1 300.8,1273.4 311,1277.8 338.4,1288.3 358,1294.8 444.5,1319.8 464.2,1325 483.6,1329.6 515.1,1335.9 540.4,1340.1 565.7,1343.4 591,1345.5 610.5,1345.9 630.8,1345.4 686.2,1342.2 725.6,1340.6M382.5,796.5 401.7,808.8 407.8,813.1 413.3,818.1 416.7,822.1 419.9,826.5 422.8,831.3 426.9,838.9 432.4,852.1 436.3,864.9 437.9,872.2 438.9,879.6 439.8,892.2 439.9,906 439.2,918.4 437.7,931 434,956.2 425.6,996.6 417.5,1043.3 409.4,1095.2 408.4,1103.5 407.9,1112.4 408.4,1129.6 411.8,1172 413.8,1191.2 416.8,1211.3 419.8,1226 423.1,1237.5 427.5,1249.1 432.5,1258.5 438.1,1266.6 443.3,1272.9 447.9,1277.4 453.1,1281.5 460.1,1285.6 466.9,1288.5 474.6,1290.9 482.8,1292.9 496.1,1295.6 535.6,1302.6 554.2,1305.4 580.1,1308.9 639.5,1315.6 725.7,1323.5M390,1645.5 433.3,1635.4 462.8,1627.1 482.8,1621.1 503.2,1614.5 532.7,1603.8 567,1589.7 581,1583.4 594,1577.1 606.7,1570.3 619.8,1562.8 629.7,1556.3 640,1549 652.9,1539.1 662.8,1530.9 672.7,1522.2 682.5,1512.9 692,1503 699.2,1494.8 706.4,1486 717.2,1471.9 734.1,1447.7 743.2,1433.5 750.5,1421.2 757,1408.8 763,1396.5 775.9,1368.1 780.2,1357.8M625.5,685.6 637.1,689.8 646.5,694.5 650.9,697.3 655,700.4 661.3,706.4 667.6,714.5 673.1,724 678,734.9 682.2,747 685.8,760.2 688.8,774.2 691.4,789.1 693.6,804.7 696.8,837.4 697.9,854.2 699.5,888.2 702.7,985.1 704.5,1012.6 705.8,1024.8 707.4,1035.9 709.3,1045.8 712.2,1057.7 718.5,1082 725.4,1106.5 736.4,1143.3 747.9,1179.3 759.3,1213.6 773.8,1255.3 790.9,1302.5M643.3,947.9 652.8,953.3 660.7,959.2 665.2,964.2 669.5,970.7 674.3,979.1 679.4,989.3 684.8,1001.1 696.6,1028.3 709.2,1059.4 722.2,1093.2 735.4,1128.5 748.2,1164.4 760.5,1199.9 771.8,1233.9 781.8,1265.2 793.1,1302.6M642.4,1115.7 651.4,1120.7 660.6,1126.8 669.9,1133.9 686.1,1147.5 693.8,1154.6 708.5,1169.1 715.4,1176.6 728.4,1191.7 734.6,1199.4 746,1215 756.4,1230.8 765.7,1246.5 773.9,1262 781,1277.1 787.1,1291.2 791.6,1302.8M604,1267.6 680,1292 741.8,1312.3M605,1392.9 656.2,1372.9 680.8,1364.1 693,1360.3 703.9,1357.3 742.4,1348M631.5,1443.9 662.2,1432.9 675.7,1427.6 688.8,1421.3 702,1413.6 721.1,1400.7 742.7,1384.5 754.2,1374.8 763.8,1366.1 769.3,1360.6 773.3,1355.8M637.8,1495 667.8,1480.8 676.7,1476 682.6,1472.4 688.8,1468.2 698.6,1460.7 708.4,1452.4 717.9,1443.5 727.1,1434.3 735.7,1425 741.1,1418.6 749.2,1408.2 759.3,1393.9 769.8,1377.8 775.5,1368.4 781,1357.7M566.8,1798.9 586.6,1764.1 606.9,1726.7 681.3,1585.9 698.1,1553.2 707.6,1533.4 716.8,1513.3 751,1435 785.7,1358M396,1670.5 437,1676.1 475.4,1680.6 583.4,1691.7 708.1,1704.1M350,1674 383.6,1684.6 409.4,1692.2 430.2,1697.7 449.7,1702.3 475.5,1707.4 549.6,1720.6 723.9,1753.3M370.5,1972.5 450.4,1981.7 557,1992 670.9,2004 702.1,2006.9 737.8,2009.4M580.5,1876.5 680,1938.5 767.2,1992.4M626.1,2051.9 649,2047.3 711.6,2031.9 737.4,2026.5M622.7,2102.9 637.4,2098.8 651.9,2093.9 666.1,2088.3 680.4,2081.8 694.7,2074.7 713.6,2064.8 766.3,2035.2M331,2083.8 358.2,2100.6 369.3,2107 380.8,2112.8 395.3,2119.4 416.6,2127.7 441.8,2136.4 465.6,2143.6 485.5,2148.8 504.8,2152.9 528,2157 561.7,2161.9 590,2165.2 613.7,2167.3 637.4,2168.8 668.4,2169.7 694.7,2169.9M649,2203 692,2192.5 730.4,2183.9M709,1545 717.5,1520.3 723.9,1504.6 771.7,1400.3 790.1,1358.2" fill="none" stroke="#63b8ff" stroke-width="2" stroke-linejoin="round"/>
<path d="M929.6,1172.3 943.5,1165 927.9,1163.1zM1000.3,1125.3 1005.5,1140.1 1009.6,1125zM1000,1125.2 1005.4,1140 1009.3,1124.8zM999.7,1125.4 1005.3,1140 1009,1124.8zM999.7,1125.3 1005.3,1140 1009,1124.8zM1001.2,1182.7 1001.9,1167 992.4,1179.5zM1008.9,1182.3 1005.4,1167 999.6,1181.6zM1010.5,1182 1006,1167 1001.2,1181.9zM1010.8,1182.4 1006.1,1167.4 1001.5,1182.4zM1010.2,1182.6 1006,1167.5 1000.9,1182.3zM1001.8,1125 1006.3,1140.1 1011.1,1125.2zM1001.5,1124.7 1006.2,1139.7 1010.9,1124.7zM1001.3,1125 1006.1,1139.9 1010.6,1124.9zM999.9,1125.1 1005.4,1139.8 1009.2,1124.5zM999.4,1125.3 1005.1,1139.9 1008.7,1124.6zM998.9,1125.5 1004.9,1140 1008.2,1124.6zM1001.6,1124.9 1006.5,1139.8 1011,1124.8zM1000.9,1125.3 1006.1,1140.1 1010.2,1125zM971,1135 986,1139.5 976.2,1127.2zM941.3,1140.6 957,1140.1 943.8,1131.6zM928.7,1158.2 943.7,1153.5 928.7,1148.8zM1010.5,1182 1006,1167 1001.2,1181.9zM1009.1,1182.6 1005.3,1167.4 999.8,1182.1zM1009.4,1182.1 1005.4,1166.9 1000.1,1181.7zM1000.2,1124.9 1005.5,1139.7 1009.5,1124.5zM997.8,1125.7 1004.3,1139.9 1007,1124.5zM986.3,1129.2 997.9,1139.7 994.3,1124.5zM988.2,1181.3 994.5,1166.9 981.2,1175.1zM1008.7,1182.1 1005.1,1166.8 999.4,1181.4zM1009.4,1182.4 1005.5,1167.2 1000.1,1182zM1010.6,1181.9 1006,1166.9 1001.3,1181.9zM1009.2,1182.2 1005.3,1166.9 999.9,1181.7zM1009.4,1182.2 1005.4,1167 1000.1,1181.8zM1009.6,1182.1 1005.5,1167 1000.3,1181.8zM1009.7,1182.4 1005.6,1167.2 1000.4,1182zM272.7,327.4 283,315.5 267.8,319.4zM283.9,328.9 292,315.5 277.7,322zM231.3,466.3 247,465.2 233.5,457.2zM238.1,503.7 249,492.3 233.6,495.5zM199.7,1487.1 214.7,1482.4 199.7,1477.7zM496.3,211.9 512,212 499.1,203zM482.2,288.4 496.7,282.3 481.3,279.2zM519.5,561 534,567 525.4,553.8zM465,605.6 476,594.4 460.6,597.3zM437.3,950.6 452.5,946.5 437.7,941.2zM463.2,1008.3 473,996 458,1000.5zM465.6,1011.9 474.5,999 459.8,1004.6zM467.5,1012.2 476,999 461.5,1005zM470.2,1012.6 478,999 463.8,1005.8zM471.8,1053.3 482.7,1042 467.3,1045.1zM460.9,1838.1 471.5,1826.5 456.2,1830.1zM543.2,1891.6 547.5,1876.5 535.4,1886.5zM787.8,426.1 796,439.5 796.9,423.8zM791.7,482.4 794.7,467 783.5,478zM773.6,630.9 784,642.7 782.2,627.1zM757.5,636.7 772,642.7 763.4,629.5zM781.8,631.9 793.3,642.5 789.9,627.2zM782.9,631.2 794,642.3 791.1,626.8zM784,631.2 794.8,642.5 792.3,627zM780.1,632.6 792.4,642.4 787.9,627.4zM772,636 786.3,642.5 778.2,629.1zM735.3,641.7 751,642.5 738.6,632.9zM728.3,651.3 743.7,648 729.2,642zM729.2,668.5 743.7,662.5 728.3,659.2zM753.1,679 766,670 750.3,670.1zM781.2,683.6 788.3,669.6 774.5,677.2zM783.1,683.8 789.3,669.3 776,677.8zM782.1,683.9 788.5,669.6 775.1,677.7zM781.7,683.7 788.3,669.5 774.8,677.5zM783.1,685.3 784,669.6 774.4,682zM729.7,846.7 744.5,841.5 729.3,837.3zM730,849 744.5,843 729.1,839.7zM729.1,826.4 744.5,823.5 730.1,817.2zM774.4,808.3 788,816.1 781.3,801.9zM774.6,808.2 788.1,816.1 781.5,801.9zM774.8,808 788.3,816 781.7,801.7zM775.1,807.7 788.5,815.9 782.1,801.5zM776,807.7 789.3,816.1 783.1,801.7zM777.2,807.2 790.2,816 784.5,801.4zM767.8,810.5 782.5,816 773.5,803.1zM772,809.6 786.3,816.1 778.2,802.7zM737.6,815.4 753.3,816.1 740.8,806.6zM766.1,854.3 777.1,843.1 761.7,846zM784.4,857.4 790.6,842.9 777.3,851.3zM791.7,858.6 794.7,843.2 783.5,854.2zM796,858.9 796.8,843.2 787.3,855.7zM793.4,858.8 795.2,843.2 784.8,855zM796.4,859.2 795,843.6 787.3,857.3zM798.5,859.2 797,843.6 789.3,857.3zM725.8,1345.3 740.6,1340 725.4,1335.9zM725.2,1328.2 740.6,1325 726.1,1318.9zM784.5,1359.6 786,1344 775.9,1356zM786.5,1304.1 796.1,1316.6 795.2,1300.9zM788.7,1303.9 797.4,1317 797.6,1301.3zM787.2,1304.4 796.8,1316.9 795.9,1301.2zM740.3,1316.7 756,1317 743.2,1307.9zM743.6,1352.6 757,1344.4 741.3,1343.5zM776.8,1358.9 783,1344.4 769.7,1352.8zM785.1,1359.8 788,1344.4 776.9,1355.5zM789.9,1360 792,1344.4 781.5,1356zM707.6,1708.7 723,1705.5 708.5,1699.4zM723.1,1757.9 738.7,1756 724.8,1748.7zM737.5,2014.1 752.8,2010.5 738.2,2004.8zM764.8,1996.4 780,2000.3 769.7,1988.4zM738.2,2031.1 752.1,2023.7 736.5,2021.9zM768.6,2039.2 779.3,2027.7 764,2031.1zM694.8,2174.6 709.7,2169.5 694.6,2165.3zM731.4,2188.4 745,2180.6 729.3,2179.3zM794.3,1360 796,1344.4 785.8,1356.3z" fill="#63b8ff" stroke="#63b8ff" stroke-width="2" stroke-linejoin="miter"/>
<g stroke-width="1.7">
<rect x="944.7" y="1140.2" width="126.5" height="26.7" fill="#999" stroke="#666"/>
<rect x="22.1" y="415.1" width="127.8" height="26.7" fill="#fff0f0" stroke="#f00"/>
<rect x="5.2" y="693.2" width="161.6" height="26.7" fill="#fff0f0" stroke="#f00"/>
<rect x="13.2" y="1469.1" width="145.6" height="26.7" fill="#fff0f0" stroke="#f00"/>
<rect x="250" y="136.3" width="119.8" height="26.7" fill="#fff" stroke="#666"/>
<rect x="224.9" y="288.2" width="170.1" height="26.7" fill="#fff" stroke="#666"/>
<rect x="242" y="415.2" width="135.8" height="26.7" fill="#fff" stroke="#666"/>
<rect x="224" y="465.2" width="171.8" height="26.7" fill="#fff" stroke="#666"/>
<rect x="219.7" y="769.2" width="180.3" height="26.7" fill="#fff0f0" stroke="#f00"/>
<rect x="227.9" y="1132.4" width="164.1" height="26.7" fill="#fff0f0" stroke="#f00"/>
<rect x="215" y="1469.1" width="189.8" height="26.7" fill="#fff" stroke="#666"/>
<rect x="224.7" y="1646.9" width="170.3" height="26.7" fill="#fff" stroke="#666"/>
<rect x="234.9" y="1823.9" width="150.1" height="26.7" fill="#fff0f0" stroke="#f00"/>
<rect x="250.9" y="1951.1" width="118.1" height="26.7" fill="#fff" stroke="#666"/>
<rect x="222.7" y="2056.1" width="174.3" height="26.7" fill="#fff0f0" stroke="#f00"/>
<rect x="228.7" y="2216.3" width="162.3" height="26.7" fill="#fff0f0" stroke="#f00"/>
<rect x="505.9" y="212.1" width="103.1" height="26.7" fill="#fff0f0" stroke="#f00"/>
<rect x="497" y="263.2" width="120.8" height="26.7" fill="#fff" stroke="#666"/>
<rect x="477.1" y="313.3" width="160.6" height="26.7" fill="#fff" stroke="#666"/>
<rect x="472.7" y="414.9" width="169.3" height="26.7" fill="#fff0f0" stroke="#f00"/>
<rect x="479" y="465.3" width="156.8" height="26.7" fill="#fff" stroke="#666"/>
<rect x="464" y="567.1" width="186.8" height="26.7" fill="#fff0f0" stroke="#f00"/>
<rect x="490.9" y="617.3" width="133.1" height="26.7" fill="#fff" stroke="#666"/>
<rect x="488.9" y="667.9" width="137.1" height="26.7" fill="#fff0f0" stroke="#f00"/>
<rect x="505" y="718.9" width="104.8" height="26.7" fill="#fff0f0" stroke="#f00"/>
<rect x="452.9" y="921.3" width="209.1" height="26.7" fill="#fff" stroke="#666"/>
<rect x="472.7" y="972.1" width="169.3" height="26.7" fill="#fff0f0" stroke="#f00"/>
<rect x="482.7" y="1022.9" width="149.3" height="26.7" fill="#fff0f0" stroke="#f00"/>
<rect x="458.7" y="1072.9" width="197.3" height="42.7" fill="#fff0f0" stroke="#f00"/>
<rect x="474.7" y="1140.1" width="165.3" height="26.7" fill="#fff0f0" stroke="#f00"/>
<rect x="461.9" y="1240.9" width="191.1" height="26.7" fill="#fff0f0" stroke="#f00"/>
<rect x="455.9" y="1392.9" width="203.1" height="26.7" fill="#fff" stroke="#666"/>
<rect x="465.9" y="1443.9" width="183.1" height="26.7" fill="#fff" stroke="#666"/>
<rect x="471.5" y="1495.1" width="171.8" height="26.7" fill="#fff0f0" stroke="#f00"/>
<rect x="470.9" y="1798.9" width="173.1" height="26.7" fill="#fff0f0" stroke="#f00"/>
<rect x="506.7" y="1849.2" width="101.3" height="26.7" fill="#fff" stroke="#666"/>
<rect x="487.9" y="2051.7" width="139.1" height="26.7" fill="#fff0f0" stroke="#f00"/>
<rect x="477.7" y="2102.9" width="159.3" height="26.7" fill="#fff0f0" stroke="#f00"/>
<rect x="464.7" y="2203.9" width="185.3" height="42.7" fill="#fff0f0" stroke="#f00"/>
<rect x="718" y="440.1" width="171.1" height="26.7" fill="#fff" stroke="#666"/>
<rect x="744" y="642.7" width="119.1" height="26.7" fill="#fff0f0" stroke="#f00"/>
<rect x="745.8" y="816.3" width="115.3" height="26.7" fill="#fff0f0" stroke="#f00"/>
<rect x="741.1" y="1317.1" width="124.8" height="26.7" fill="#fff" stroke="#666"/>
<rect x="723.8" y="1697.3" width="159.3" height="26.7" fill="#fff0f0" stroke="#f00"/>
<rect x="739" y="1747.9" width="129.1" height="26.7" fill="#fff" stroke="#666"/>
<rect x="753.5" y="2000.9" width="100.1" height="26.7" fill="#fff0f0" stroke="#f00"/>
<rect x="710" y="2153.4" width="187.1" height="26.7" fill="#fff" stroke="#666"/>
<rect x="719" y="2287.9" width="169.1" height="26.7" fill="#fff0f0" stroke="#f00"/>
<rect x="722" y="2338.9" width="163.1" height="26.7" fill="#fff0f0" stroke="#f00"/>
<rect x="744" y="2388.9" width="119.1" height="26.7" fill="#fff0f0" stroke="#f00"/>
</g>
<g style="filter:grayscale(1)" font-family="Liberation Sans, sans-serif" font-size="13.333" text-anchor="middle" fill="#000">
<text x="1007.9" y="1158.3" textLength="104.1" lengthAdjust="spacing">Tim_ManBoxNum</text>
<text x="86" y="433.2" textLength="105.5" lengthAdjust="spacing">Gia_ManInsertMfs</text>
<text x="86" y="711.3" textLength="139.2" lengthAdjust="spacing">Gia_ManDupWithBoxes</text>
<text x="86" y="1487.2" textLength="123.2" lengthAdjust="spacing">Gia_ManEvalWindow</text>
<text x="309.9" y="154.4" textLength="97.5" lengthAdjust="spacing">Abc_NtkTestTim</text>
<text x="309.9" y="306.3" textLength="147.7" lengthAdjust="spacing">Gia_ManUpdateTimMan2</text>
<text x="309.9" y="433.3" textLength="113.5" lengthAdjust="spacing">Gia_ManLutParams</text>
<text x="309.9" y="483.3" textLength="149.4" lengthAdjust="spacing">Gia_ManUpdateExtraAig2</text>
<text x="309.9" y="787.3" textLength="157.9" lengthAdjust="spacing">Gia_ManPrintMappingStats</text>
<text x="309.9" y="1150.5" textLength="141.7" lengthAdjust="spacing">Gia_ManEvalEdgeDelay</text>
<text x="309.9" y="1487.2" textLength="167.4" lengthAdjust="spacing">Gia_ManComputeEdgeDelay</text>
<text x="309.9" y="1665" textLength="147.9" lengthAdjust="spacing">Gia_ManVerifyWithBoxes</text>
<text x="309.9" y="1842" textLength="127.7" lengthAdjust="spacing">Sbl_ManCreateTiming</text>
<text x="309.9" y="1969.2" textLength="95.7" lengthAdjust="spacing">Sbd_NtkPerform</text>
<text x="309.9" y="2074.2" textLength="151.9" lengthAdjust="spacing">Gia_ManFraigSelectReprs</text>
<text x="309.9" y="2234.4" textLength="139.9" lengthAdjust="spacing">Gia_ManUpdateTimMan</text>
<text x="557.4" y="230.2" textLength="80.7" lengthAdjust="spacing">Tim_ManPrint</text>
<text x="557.4" y="281.3" textLength="98.5" lengthAdjust="spacing">Tim_ManReduce</text>
<text x="557.4" y="331.4" textLength="138.2" lengthAdjust="spacing">Gia_ManIllustrateBoxes</text>
<text x="557.4" y="433.1" textLength="146.9" lengthAdjust="spacing">Gia_ManLevelWithBoxes</text>
<text x="557.4" y="483.4" textLength="134.4" lengthAdjust="spacing">Tim_ManPrintBoxCopy</text>
<text x="557.4" y="585.2" textLength="164.4" lengthAdjust="spacing">Gia_ManLutLevelWithBoxes</text>
<text x="557.4" y="635.4" textLength="110.7" lengthAdjust="spacing">Tim_ManPrintStats</text>
<text x="557.4" y="686" textLength="114.7" lengthAdjust="spacing">Gia_ManExtractMfs</text>
<text x="557.4" y="737" textLength="82.5" lengthAdjust="spacing">Tim_ManSave</text>
<text x="557.4" y="939.4" textLength="186.7" lengthAdjust="spacing">Gia_ManMarkSeqGiaWithBoxes</text>
<text x="557.4" y="990.2" textLength="146.9" lengthAdjust="spacing">Gia_ManOrderWithBoxes</text>
<text x="557.4" y="1041" textLength="127" lengthAdjust="spacing">Gia_ManDupCollapse</text>
<text x="557.4" y="1091" textLength="174.9" lengthAdjust="spacing">Gia_ManDupWithArtificalFadd</text>
<text x="557.4" y="1107">Boxes</text>
<text x="557.4" y="1158.2" textLength="142.9" lengthAdjust="spacing">Gia_ManUpdateExtraAig</text>
<text x="557.4" y="1259" textLength="168.7" lengthAdjust="spacing">Gia_ManFindAnnotatedDelay</text>
<text x="557.4" y="1411" textLength="180.7" lengthAdjust="spacing">Gia_ManDupWithNaturalBoxes</text>
<text x="557.4" y="1462" textLength="160.7" lengthAdjust="spacing">Gia_ManFraigSweepSimple</text>
<text x="557.4" y="1513.2" textLength="149.4" lengthAdjust="spacing">Gia_ManIsSeqWithBoxes</text>
<text x="557.4" y="1817" textLength="150.7" lengthAdjust="spacing">Gia_ManNonRegBoxNum</text>
<text x="557.4" y="1867.3" textLength="79" lengthAdjust="spacing">Tim_ManTrim</text>
<text x="557.4" y="2069.8" textLength="116.7" lengthAdjust="spacing">Gia_ManLutBalance</text>
<text x="557.4" y="2121.1" textLength="136.9" lengthAdjust="spacing">Lf_ManPerformMapping</text>
<text x="557.4" y="2222.1" textLength="162.9" lengthAdjust="spacing">Gia_ManCheckIntegrityWith</text>
<text x="557.4" y="2238.1">Boxes</text>
<text x="803.5" y="458.2" textLength="148.7" lengthAdjust="spacing">Tim_ManBlackBoxIoNum</text>
<text x="803.5" y="660.8" textLength="96.7" lengthAdjust="spacing">Tim_ManPoNum</text>
<text x="803.5" y="834.4" textLength="93" lengthAdjust="spacing">Tim_ManPiNum</text>
<text x="803.5" y="1335.2" textLength="102.5" lengthAdjust="spacing">Gia_ManBoxNum</text>
<text x="803.5" y="1715.4" textLength="136.9" lengthAdjust="spacing">Tim_ManBlackBoxNum</text>
<text x="803.5" y="1766" textLength="106.7" lengthAdjust="spacing">Tim_ManAlignTwo</text>
<text x="803.5" y="2019" textLength="77.7" lengthAdjust="spacing">Tim_ManDup</text>
<text x="803.5" y="2171.6" textLength="164.7" lengthAdjust="spacing">Gia_ManComputeCarryOuts</text>
<text x="803.5" y="2306.1" textLength="146.7" lengthAdjust="spacing">Gia_ManPerformMapping</text>
<text x="803.5" y="2357.1" textLength="140.7" lengthAdjust="spacing">Nf_ManPerformMapping</text>
<text x="803.5" y="2407.1" textLength="96.7" lengthAdjust="spacing">Wlc_NtkBitBlast</text>
</g>
</svg>
</body></html>
